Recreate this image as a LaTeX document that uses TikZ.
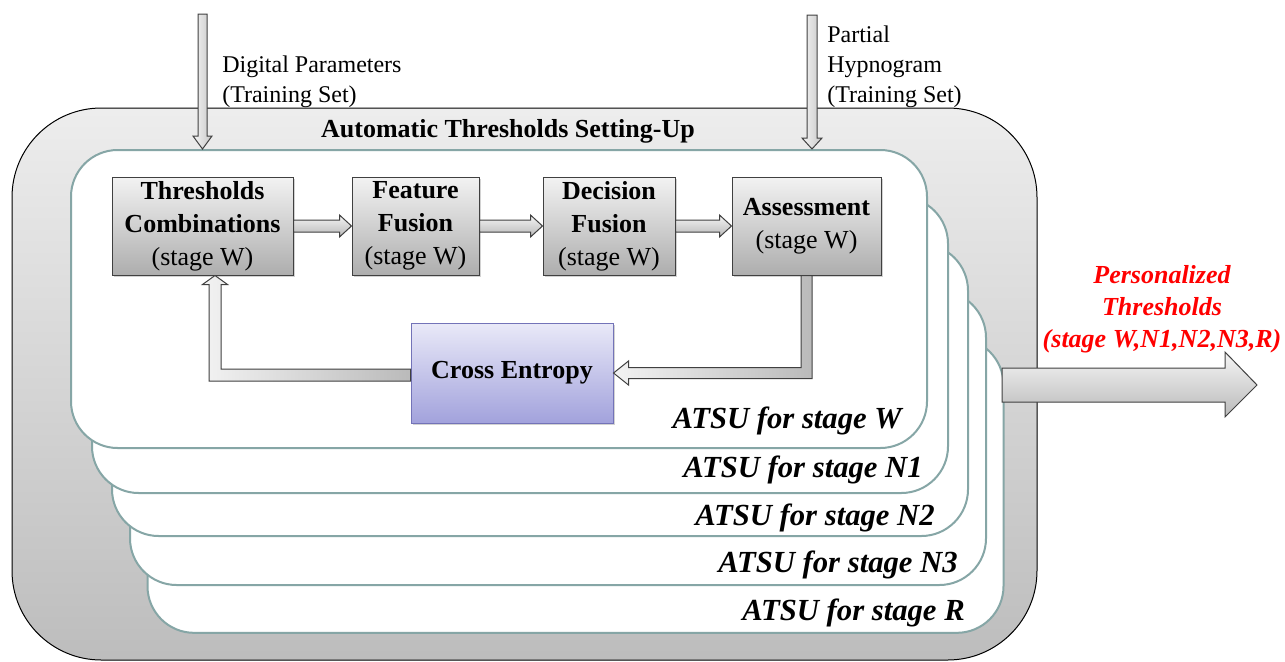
\documentclass[tikz,border=0pt]{standalone}
\usepackage{fontspec}
\setmainfont{Liberation Serif}
\usetikzlibrary{calc,shadows}
\definecolor{cardline}{HTML}{86A6A6}
\definecolor{boxline}{HTML}{404040}
\definecolor{celine}{HTML}{7373B8}
\definecolor{cetop}{HTML}{E9E9F8}
\definecolor{cebot}{HTML}{A2A2DC}
\newcommand\ftxt{\fontsize{18}{22.5}\selectfont}
\newcommand\fbx{\fontsize{19.5}{24.75}\selectfont}
\newcommand\fatsu{\fontsize{23}{26}\selectfont\bfseries\itshape}
\newcommand\fpers{\fontsize{19.5}{24}\selectfont\bfseries\itshape}
\tikzset{
  outerbox/.style={draw=black, line width=0.75pt, rounded corners=67pt,
    top color=black!7, bottom color=black!26, inner sep=0pt},
  card/.style={draw=cardline, line width=1.5pt, fill=white, rounded corners=35pt,
    minimum width=642pt, inner sep=0pt},
  atsu/.style={anchor=base east, inner sep=0pt, font=\fatsu},
  stagebox/.style={draw=boxline, line width=0.75pt, top color=black!5, bottom color=black!32,
    inner sep=0pt, minimum height=73.5pt, align=center, font=\fbx,
    drop shadow={shadow xshift=1.2pt, shadow yshift=-1.2pt, opacity=0.35}},
  cebox/.style={draw=celine, line width=0.75pt, top color=cetop, bottom color=cebot,
    inner sep=0pt, minimum width=151.5pt, minimum height=75pt, font=\fbx\bfseries,
    drop shadow={shadow xshift=1.2pt, shadow yshift=-1.2pt, opacity=0.35}},
  blockarr/.style={draw=boxline, line width=0.75pt, top color=black!4, bottom color=black!28},
  fbarrow/.style={draw=boxline, line width=0.75pt, left color=black!5, right color=black!27},
  inarrow/.style={draw=boxline, line width=0.75pt, left color=black!4, right color=black!22},
  outarrow/.style={draw=boxline, line width=0.75pt, top color=black!4, bottom color=black!27},
  lbl/.style={inner sep=0pt, font=\ftxt, align=left}
}
\newcommand\blkarrow[2]{%
  \path[blockarr] ($(#1.east)+(0,-6)$) -- ($(#2.west)+(-12,-6)$) -- ($(#2.west)+(-12,-11)$)
    -- (#2.west) -- ($(#2.west)+(-12,11)$) -- ($(#2.west)+(-12,6)$) -- ($(#1.east)+(0,6)$) -- cycle;}
\begin{document}
\begin{tikzpicture}[x=0.75pt,y=-0.75pt]
\useasboundingbox (0,0) rectangle (1285,661);

% outer container
\node[outerbox, minimum width=768.75pt, minimum height=414pt] (outer) at (524.5,384) {};
\node[inner sep=0pt, font=\fbx\bfseries] (title) at (508,131) {Automatic Thresholds Setting-Up};

% stacked cards (back to front)
\node[card, minimum height=221pt] (cardR)  at (575.5,485.5) {};
\node[card, minimum height=220.5pt] (cardN3) at (558,438) {};
\node[card, minimum height=219pt] (cardN2) at (540,390) {};
\node[card, minimum height=222pt] (cardN1) at (520,345) {};
\node[card, minimum height=223.5pt] (cardW)  at (499,299) {};

\node[atsu] (lR)  at (965,620) {ATSU for stage R};
\node[atsu] (lN3) at (958,572) {ATSU for stage N3};
\node[atsu] (lN2) at (935,525) {ATSU for stage N2};
\node[atsu] (lN1) at (923,477) {ATSU for stage N1};
\node[atsu] (lW)  at (902,428) {ATSU for stage W};

% input arrows
\coordinate (dpin) at (202.5,14);
\coordinate (dptip) at (dpin |- cardW.north);
\path[inarrow] ($(dpin)+(-4.5,0)$) -- ($(dptip)+(-4.5,-13)$) -- ($(dptip)+(-9.5,-13)$) -- (dptip)
  -- ($(dptip)+(9.5,-13)$) -- ($(dptip)+(4.5,-13)$) -- ($(dpin)+(4.5,0)$) -- cycle;
\coordinate (hyin) at (812,15);
\coordinate (hytip) at (hyin |- cardW.north);
\path[inarrow] ($(hyin)+(-5,0)$) -- ($(hytip)+(-5,-11)$) -- ($(hytip)+(-10,-11)$) -- (hytip)
  -- ($(hytip)+(10,-11)$) -- ($(hytip)+(5,-11)$) -- ($(hyin)+(5,0)$) -- cycle;

\node[lbl, anchor=west] (dplbl) at (222,82) {Digital Parameters\\(Training Set)};
\node[lbl, anchor=west] (hylbl) at (827,67) {Partial\\Hypnogram\\(Training Set)};

% stage boxes
\node[stagebox, minimum width=135.75pt] (tc) at (202.5,226) {\textbf{Thresholds}\\\textbf{Combinations}\\(stage W)};
\node[stagebox, minimum width=95.25pt] (ff) at (415.5,226) {\textbf{Feature}\\\textbf{Fusion}\\(stage W)};
\node[stagebox, minimum width=99pt] (df) at (609,226) {\textbf{Decision}\\\textbf{Fusion}\\(stage W)};
\node[stagebox, minimum width=111.75pt] (as) at (806.5,226) {\textbf{Assessment}\\(stage W)};
\node[cebox] (ce) at (512,373) {Cross Entropy};

\blkarrow{tc}{ff}
\blkarrow{ff}{df}
\blkarrow{df}{as}

% feedback from assessment to cross entropy
\coordinate (fbR) at (as.south |- ce.east);
\path[fbarrow] ($(as.south)+(-5.5,0)$) -- ($(as.south)+(5.5,0)$) -- ($(fbR)+(5.5,5.5)$)
  -- ($(ce.east)+(15,5.5)$) -- ($(ce.east)+(15,12)$) -- (ce.east) -- ($(ce.east)+(15,-12)$)
  -- ($(ce.east)+(15,-5.5)$) -- ($(fbR)+(-5.5,-5.5)$) -- cycle;

% feedback from cross entropy to thresholds combinations
\coordinate (tipL) at ($(tc.south)+(12.5,0)$);
\coordinate (fbL) at (tipL |- ce.west);
\path[fbarrow] ($(ce.west)+(0,-4)$) -- ($(fbL)+(6,-4)$) -- ($(tipL)+(6,9)$) -- ($(tipL)+(12.5,9)$)
  -- (tipL) -- ($(tipL)+(-12.5,9)$) -- ($(tipL)+(-6,9)$) -- ($(fbL)+(-6,8)$)
  -- ($(ce.west)+(0,8)$) -- cycle;

% output arrow
\coordinate (outS) at (1002,385);
\coordinate (outE) at (1257,385);
\path[outarrow] ($(outS)+(0,-17)$) -- ($(outE)+(-32,-17)$) -- ($(outE)+(-32,-33)$) -- (outE)
  -- ($(outE)+(-32,32)$) -- ($(outE)+(-32,17)$) -- ($(outS)+(0,17)$) -- cycle;
\node[inner sep=0pt, font=\fpers, text=red, align=center] (pers) at (1162,309)
  {Personalized\\Thresholds\\(stage W,N1,N2,N3,R)};
\end{tikzpicture}
\end{document}
